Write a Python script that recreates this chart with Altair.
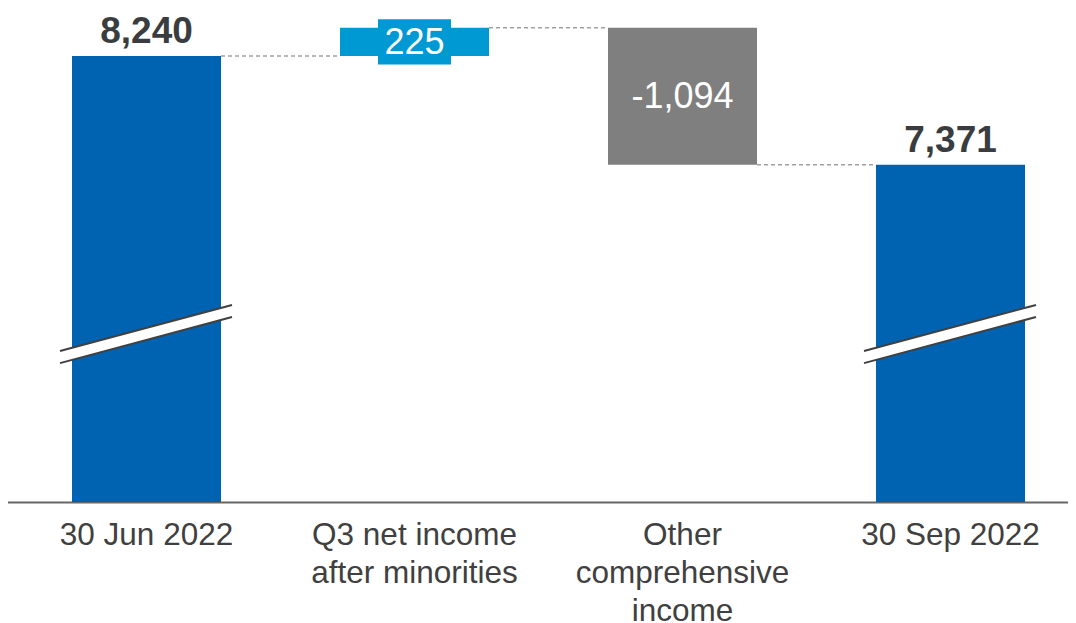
import altair as alt
import pandas as pd

# ---- data ----
categories = ["30 Jun 2022", "Q3 net income|after minorities", "Other|comprehensive|income", "30 Sep 2022"]
values = [8240, 225, -1094, 7371]
kinds = ["total", "increase", "decrease", "total"]
labels = ["8,240", "225", "-1,094", "7,371"]

# broken axis: visible value range
Y_MIN, Y_MAX = 4679, 8623

rows = []
level = 0
for i, (c, v, k, l) in enumerate(zip(categories, values, kinds, labels)):
    if k == "total":
        start, end = 0, v
    else:
        start, end = level, level + v
    level = end
    rows.append(dict(cat=c, start=start, end=end, kind=k, label=l,
                     mid=(start + end) / 2, top=max(start, end)))
df = pd.DataFrame(rows)

# connectors between consecutive bars
conn = pd.DataFrame([
    dict(frm=rows[i]["cat"], to=rows[i + 1]["cat"], lvl=rows[i]["end"])
    for i in range(len(rows) - 1)
])

# label box behind delta "225"
box_half = 180
inc = df[df.kind == "increase"].copy()
inc["b0"] = inc["mid"] - box_half
inc["b1"] = inc["mid"] + box_half

# axis-break decoration on the total bars
brk_center = (5836, 6204)
brk_off = 48
brk = pd.DataFrame([dict(cat=r["cat"]) for r in rows if r["kind"] == "total"])
brk["c0"], brk["c1"] = brk_center
brk["u0"], brk["u1"] = brk_center[0] + brk_off, brk_center[1] + brk_off
brk["l0"], brk["l1"] = brk_center[0] - brk_off, brk_center[1] - brk_off

xscale = alt.Scale(domain=categories, range=[-3, 1084], paddingInner=0.444, paddingOuter=0.25)
yscale = alt.Scale(domain=[Y_MIN, Y_MAX], nice=False, zero=False)
FONT = "Liberation Sans"

x_axis = alt.Axis(title=None, labelAngle=0, ticks=False, domainColor="#666666", domainWidth=2,
                  labelFont=FONT, labelFontSize=31.5, labelColor="#404040", labelPadding=17,
                  labelLineHeight=38, labelLimit=500, labelOverlap=False,
                  labelExpr="split(datum.value, '|')")

bars = alt.Chart(df).mark_bar(clip=True).encode(
    x=alt.X("cat:N", scale=xscale, axis=x_axis),
    y=alt.Y("start:Q", scale=yscale, axis=None),
    y2="end:Q",
    color=alt.Color("kind:N", legend=None,
                    scale=alt.Scale(domain=["total", "increase", "decrease"],
                                    range=["#0063B1", "#0099D4", "#7F7F7F"])),
)

connectors = alt.Chart(conn).mark_rule(color="#A0A0A0", strokeDash=[4, 3], strokeWidth=1.5).encode(
    x=alt.X("frm:N", scale=xscale, bandPosition=1, axis=x_axis),
    x2=alt.X2("to", bandPosition=0),
    y=alt.Y("lvl:Q", scale=yscale, axis=None),
)

box = alt.Chart(inc).mark_bar(width=73, color="#0099D4").encode(
    x=alt.X("cat:N", scale=xscale, axis=x_axis),
    y=alt.Y("b0:Q", scale=yscale, axis=None),
    y2="b1:Q",
)

total_text = alt.Chart(df[df.kind == "total"]).mark_text(
    font=FONT, fontSize=37, fontWeight="bold", color="#3A3D40", baseline="alphabetic", dy=-13
).encode(
    x=alt.X("cat:N", scale=xscale, axis=x_axis),
    y=alt.Y("top:Q", scale=yscale, axis=None),
    text="label:N",
)

delta_text = alt.Chart(df[df.kind != "total"]).mark_text(
    font=FONT, fontSize=36, color="white", baseline="middle", dy=1
).encode(
    x=alt.X("cat:N", scale=xscale, axis=x_axis),
    y=alt.Y("mid:Q", scale=yscale, axis=None),
    text="label:N",
)

def brk_rule(a, b, color, w):
    return alt.Chart(brk).mark_rule(color=color, strokeWidth=w, strokeCap="butt",
                                    xOffset=-12, x2Offset=11).encode(
        x=alt.X("cat:N", scale=xscale, bandPosition=0, axis=x_axis),
        x2=alt.X2("cat", bandPosition=1),
        y=alt.Y(f"{a}:Q", scale=yscale, axis=None),
        y2=f"{b}:Q",
    )

breaks = brk_rule("c0", "c1", "white", 11) + brk_rule("u0", "u1", "#404040", 2) + brk_rule("l0", "l1", "#404040", 2)

chart = alt.layer(bars, connectors, box, total_text, delta_text, breaks).properties(
    width=1060, height=494,
    background="white",
    autosize=alt.AutoSizeParams(type="none"),
    padding={"left": 0, "top": 0, "right": 0, "bottom": 121},
).configure_view(stroke=None)

chart.save("out.html", embed_options={"renderer": "svg", "actions": False})
